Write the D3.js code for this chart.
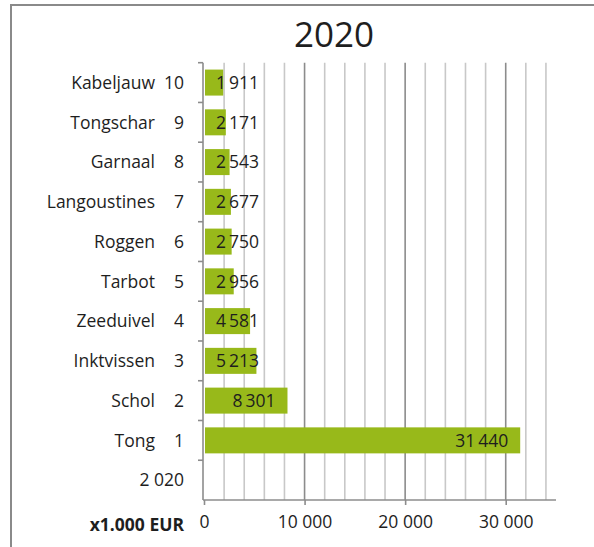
<!DOCTYPE html>
<html>
<head>
<meta charset="utf-8">
<script src="https://cdn.jsdelivr.net/npm/d3@7/dist/d3.min.js"></script>
<style>
  html, body { margin: 0; padding: 0; background: #fff; }
  svg { display: block; }
  text { font-family: "Open Sans", "Noto Sans", sans-serif; fill: #1e1e1e; }
</style>
</head>
<body>
<svg id="chart" width="594" height="547"></svg>
<script>
const title = "2020";
const names = ["Kabeljauw", "Tongschar", "Garnaal", "Langoustines", "Roggen", "Tarbot", "Zeeduivel", "Inktvissen", "Schol", "Tong"];
const ranks = ["10", "9", "8", "7", "6", "5", "4", "3", "2", "1"];
const values = [1911, 2171, 2543, 2677, 2750, 2956, 4581, 5213, 8301, 31440];
const groupLabel = "2 020";
const axisTitle = "x1.000 EUR";
const xTicks = [0, 10000, 20000, 30000];
const xMax = 35000;
const minorStep = 2000;

const svg = d3.select("#chart");
const mLeft = 204, mRight = 556, mTop = 62.7, mBottom = 500;
const fs = "17.5px";

const fmt = d3.formatLocale({ decimal: ",", thousands: "\u2009", grouping: [3], currency: ["", ""] }).format(",d");
const fmtTick = d3.formatLocale({ decimal: ",", thousands: " ", grouping: [3], currency: ["", ""] }).format(",d");

// frame
svg.append("rect").attr("x", 11).attr("y", 5).attr("width", 700).attr("height", 700)
  .attr("fill", "none").attr("stroke", "#8a8a8a").attr("stroke-width", 2);

// title
svg.append("text").attr("x", 334).attr("y", 47).attr("text-anchor", "middle")
  .style("font-size", "35px").text(title);

const cats = names.map((n, i) => n + "|" + ranks[i]).concat(["__group"]);
const y = d3.scaleBand().domain(cats).range([mTop, mBottom]).paddingInner(0).paddingOuter(0);
const yBar = d3.scaleBand().domain(cats).range([mTop, mBottom]).paddingInner(0.346).paddingOuter(0.173);
const x = d3.scaleLinear().domain([0, xMax]).range([mLeft, mRight]);

// gridlines
const minor = d3.range(minorStep, xMax, minorStep).filter(v => v % 10000 !== 0);
svg.append("g").selectAll("line").data(minor).join("line")
  .attr("x1", d => x(d)).attr("x2", d => x(d)).attr("y1", mTop).attr("y2", mBottom)
  .attr("stroke", "#c8c8c8").attr("stroke-width", 1.6);
svg.append("g").selectAll("line").data(xTicks.filter(v => v > 0)).join("line")
  .attr("x1", d => x(d)).attr("x2", d => x(d)).attr("y1", mTop).attr("y2", mBottom)
  .attr("stroke", "#8c8c8c").attr("stroke-width", 1.6);

// bars
const data = names.map((n, i) => ({ key: cats[i], name: n, rank: ranks[i], value: values[i] }));
svg.append("g").selectAll("rect").data(data).join("rect")
  .attr("x", x(0) + 1).attr("y", d => yBar(d.key))
  .attr("width", d => x(d.value) - x(0) - 1).attr("height", yBar.bandwidth())
  .attr("fill", "#98b91a");

// x axis
const xAxis = d3.axisBottom(x).tickValues(xTicks).tickSize(5).tickPadding(12).tickFormat(fmtTick);
const gx = svg.append("g").attr("transform", `translate(0,${mBottom})`).call(xAxis);
gx.select(".domain").attr("d", `M${mLeft - 1},0H${mRight}`).attr("stroke", "#8c8c8c").attr("stroke-width", 1.6);
gx.selectAll(".tick line").attr("stroke", "#8c8c8c").attr("stroke-width", 1.6);
gx.selectAll(".tick text").style("font-size", fs).style("font-family", "'Open Sans', sans-serif").attr("fill", "#1e1e1e").attr("dy", "0.62em");

// y axis line and ticks at band boundaries
const boundaries = cats.map(c => y(c));
svg.append("line").attr("x1", mLeft - 1).attr("x2", mLeft - 1).attr("y1", mTop).attr("y2", mBottom)
  .attr("stroke", "#8c8c8c").attr("stroke-width", 1.6);
svg.append("g").selectAll("line").data(boundaries).join("line")
  .attr("x1", mLeft - 6).attr("x2", mLeft - 1).attr("y1", d => d).attr("y2", d => d)
  .attr("stroke", "#8c8c8c").attr("stroke-width", 1.6);

// category labels
const lab = svg.append("g").style("font-size", fs);
lab.selectAll("text.name").data(data).join("text").attr("class", "name")
  .attr("x", 155).attr("y", d => y(d.key) + y.bandwidth() / 2).attr("dy", "0.36em")
  .attr("text-anchor", "end").text(d => d.name);
lab.selectAll("text.rank").data(data).join("text").attr("class", "rank")
  .attr("x", 184).attr("y", d => y(d.key) + y.bandwidth() / 2).attr("dy", "0.36em")
  .attr("text-anchor", "end").text(d => d.rank);
lab.append("text").attr("x", 184).attr("y", y("__group") + y.bandwidth() / 2).attr("dy", "0.36em")
  .attr("text-anchor", "end").text(groupLabel);

// axis title
svg.append("text").attr("x", 184).attr("y", mBottom + 31).attr("text-anchor", "end")
  .style("font-size", fs).style("font-weight", "bold").text(axisTitle);

// value labels (inside end, pushed to base when not fitting)
const vl = svg.append("g").style("font-size", fs);
vl.selectAll("text").data(data).join("text")
  .attr("y", d => y(d.key) + y.bandwidth() / 2).attr("dy", "0.36em")
  .text(d => fmt(d.value))
  .each(function(d) {
    const w = this.getComputedTextLength();
    let xs = x(d.value) - 12 - w;
    if (xs < x(0) + 12) xs = x(0) + 12;
    d3.select(this).attr("x", xs);
  });
</script>
</body>
</html>
